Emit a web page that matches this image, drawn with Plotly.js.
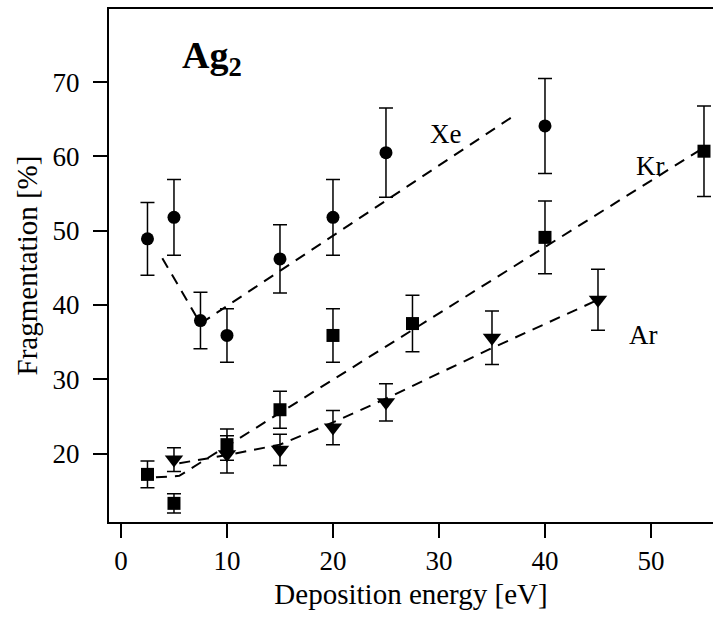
<!DOCTYPE html>
<html>
<head>
<meta charset="utf-8">
<script src="https://cdn.plot.ly/plotly-3.0.1.min.js"></script>
<style>html,body{margin:0;padding:0;background:#fff;}#chart{width:713px;height:619px;}</style>
</head>
<body>
<div id="chart"></div>
<script>
// Xe (circles)
const xeX = [2.5, 5, 7.5, 10, 15, 20, 25, 40];
const xeY = [48.9, 51.8, 37.9, 35.9, 46.2, 51.8, 60.5, 64.1];
const xeErr = [4.9, 5.1, 3.8, 3.6, 4.6, 5.1, 6.0, 6.4];
// Kr (squares)
const krX = [2.5, 5, 10, 15, 20, 27.5, 40, 55];
const krY = [17.2, 13.3, 21.2, 25.9, 35.9, 37.5, 49.1, 60.7];
const krErr = [1.8, 1.3, 2.1, 2.5, 3.6, 3.8, 4.9, 6.1];
// Ar (down triangles)
const arX = [5, 10, 15, 20, 25, 35, 45];
const arY = [19.2, 19.9, 20.5, 23.5, 26.9, 35.6, 40.7];
const arErr = [1.6, 2.5, 2.1, 2.3, 2.5, 3.6, 4.1];
// dashed guide lines
const xeFitX = [3.9, 7.5, 37.1];
const xeFitY = [46.3, 37.5, 65.5];
const krFitX = [3.3, 5.5, 55];
const krFitY = [16.8, 17.0, 61.2];
const arFitX = [5.5, 10, 15, 20, 25, 35, 44.7];
const arFitY = [18.7, 19.8, 21.2, 24.2, 27.4, 34.2, 40.5];
// ticks
const xTicks = [0, 10, 20, 30, 40, 50];
const yTicks = [20, 30, 40, 50, 60, 70];
const seriesNames = ['Xe', 'Kr', 'Ar'];

const font = 'Liberation Serif, Times New Roman, serif';
const dashLine = {color: 'black', width: 2, dash: '11px,8px'};
function fit(x, y) {
  return {x: x, y: y, mode: 'lines', line: dashLine, hoverinfo: 'skip', showlegend: false};
}
function pts(x, y, e, sym, size) {
  return {x: x, y: y, mode: 'markers', showlegend: false,
    marker: {symbol: sym, size: size, color: 'black'},
    error_y: {type: 'data', array: e, visible: true, color: 'black', thickness: 1.5, width: 7}};
}
const traces = [
  fit(xeFitX, xeFitY), fit(krFitX, krFitY), fit(arFitX, arFitY),
  pts(xeX, xeY, xeErr, 'circle', 13),
  pts(krX, krY, krErr, 'square', 13),
  pts(arX, arY, arErr, 'triangle-down', 16)
];
const layout = {
  width: 713, height: 619,
  margin: {l: 109, r: 0, t: 9, b: 96.5},
  paper_bgcolor: '#fff', plot_bgcolor: '#fff',
  font: {family: font, color: 'black', size: 27},
  xaxis: {
    range: [-1.13, 55.85], tickvals: xTicks, ticktext: xTicks.map(String),
    ticks: 'outside', ticklen: 14, tickwidth: 2, tickcolor: 'black',
    showline: true, linewidth: 2, linecolor: 'black', mirror: true,
    showgrid: false, zeroline: false,
    tickfont: {family: font, size: 27, color: 'black'},
    title: {text: 'Deposition energy [eV]', font: {family: font, size: 29, color: 'black'}, standoff: 8}
  },
  yaxis: {
    range: [10.79, 79.84], tickvals: yTicks, ticktext: yTicks.map(String),
    ticks: 'outside', ticklen: 14, tickwidth: 2, tickcolor: 'black',
    showline: true, linewidth: 2, linecolor: 'black', mirror: false,
    showgrid: false, zeroline: false, ticklabelstandoff: 8,
    tickfont: {family: font, size: 27, color: 'black'},
    title: {text: 'Fragmentation [%]', font: {family: font, size: 29, color: 'black'}, standoff: 6}
  },
  annotations: [
    {x: 5.6, y: 73.3, xref: 'x', yref: 'y', xanchor: 'left', yanchor: 'middle', showarrow: false,
     text: '<b>Ag<sub>2</sub></b>', font: {family: font, size: 38, color: 'black'}},
    {x: 30.66, y: 63.0, xref: 'x', yref: 'y', showarrow: false, text: seriesNames[0], font: {family: font, size: 27, color: 'black'}},
    {x: 50.0, y: 58.7, xref: 'x', yref: 'y', showarrow: false, text: seriesNames[1], font: {family: font, size: 27, color: 'black'}},
    {x: 49.3, y: 36.0, xref: 'x', yref: 'y', showarrow: false, text: seriesNames[2], font: {family: font, size: 27, color: 'black'}}
  ]
};
Plotly.newPlot('chart', traces, layout, {staticPlot: true, displayModeBar: false});
</script>
</body>
</html>
